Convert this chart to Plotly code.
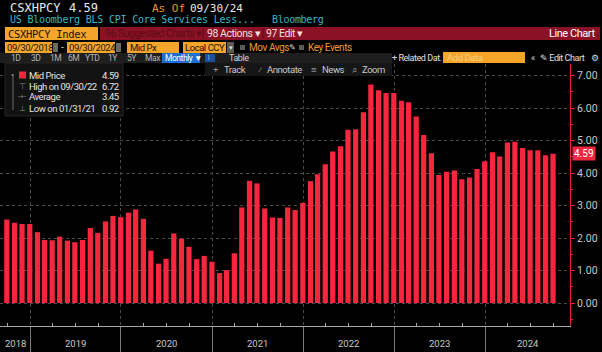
import pandas as pd
import plotly.graph_objects as go

# ---------------- data ----------------
ticker = "CSXHPCY"
title_text = "US Bloomberg BLS CPI Core Services Less..."
dates = pd.date_range("2018-09-30", periods=73, freq=pd.offsets.MonthEnd())
values = [2.57, 2.47, 2.43, 2.43, 2.18, 1.94, 1.93, 2.04, 1.92, 1.87,
          1.94, 2.31, 2.16, 2.51, 2.68, 2.64, 2.78, 2.88, 2.59, 1.61,
          1.21, 1.36, 2.14, 1.98, 1.73, 1.35, 1.45, 1.27, 0.92, 1.01,
          1.53, 2.94, 3.76, 3.68, 2.91, 2.63, 2.62, 2.94, 2.86, 3.08,
          3.75, 3.96, 4.27, 4.66, 4.82, 5.33, 5.35, 5.87, 6.72, 6.55,
          6.46, 6.46, 6.22, 6.18, 5.74, 5.17, 4.61, 3.94, 4.04, 4.08,
          3.81, 3.86, 4.12, 4.36, 4.64, 4.51, 4.94, 4.96, 4.77, 4.70,
          4.70, 4.55, 4.59]
year_labels = ["2018", "2019", "2020", "2021", "2022", "2023", "2024"]
y_ticks = [0, 1, 2, 3, 4, 5, 6, 7]

# ---------------- geometry / style ----------------
W, H = 602, 352
L, R, T, B = 0, 32, 64, 26
PW, PH = W - L - R, H - T - B

BAR = "#f7263f"
RED_AX = "#e8203a"
ORANGE = "#f4a52a"
ORANGE_TXT = "#ee9a2c"
DARKRED = "#8a1224"
GRID = "#4a4a4a"
TXT = "#c8c8c8"
MONO = "DejaVu Sans Mono, Liberation Mono, monospace"
UI = "Roboto, Liberation Sans, sans-serif"

# x calibration: 2019-01-01 at px 30, 2024-01-01 at px 485
j19, j24 = pd.Timestamp("2019-01-01"), pd.Timestamp("2024-01-01")
dpp = (j24 - j19) / (485 - 30)
X0 = j19 - dpp * 30
X1 = j24 + dpp * (PW - 485)

# y calibration: 0 at px 303, 32.5 px per unit
Y_BOT = -(T + PH - 303) / 32.5
Y_TOP = (303 - T) / 32.5


def px(x):
    return (x - L) / PW


def py(y):
    return 1 - (y - T) / PH


shapes = []
annots = []


def rect(x0, y0, x1, y1, fill, line=None, lw=0):
    shapes.append(dict(type="rect", xref="paper", yref="paper",
                       x0=px(x0), x1=px(x1), y0=py(y1), y1=py(y0),
                       fillcolor=fill, line=dict(width=lw, color=line or fill),
                       layer="above"))


def vline(x, y0, y1, color, w=1):
    shapes.append(dict(type="line", xref="paper", yref="paper",
                       x0=px(x), x1=px(x), y0=py(y1), y1=py(y0),
                       line=dict(width=w, color=color), layer="above"))


def text(x, y, s, color, size, family=UI, anchor="left", ls=None):
    if ls is None:
        ls = -0.45 if family == UI else 0
    if ls:
        s = f"<span style='letter-spacing:{ls}px'>{s}</span>"
    annots.append(dict(x=px(x), y=py(y), xref="paper", yref="paper",
                       text=s, showarrow=False, xanchor=anchor, yanchor="middle",
                       borderpad=0, font=dict(color=color, size=size, family=family)))


latest = values[-1]
imax = max(range(len(values)), key=lambda i: values[i])
imin = min(range(len(values)), key=lambda i: values[i])
avg = sum(values) / len(values)
end_date = dates[-1].strftime("%m/%d/%y")
start_date = dates[0].strftime("%m/%d/%Y")
end_date_long = dates[-1].strftime("%m/%d/%Y")

# ---- row 1 ----
text(9, 8, ticker, "#e8e8e8", 12, MONO)
text(68, 8, f"{latest:.2f}", "#e8e8e8", 12, MONO)
text(151, 8, "As Of", "#e8952a", 11, MONO)
text(189, 8, end_date, "#e8e8e8", 11, MONO)
# ---- row 2 ----
text(9, 20, title_text, "#3cb6c8", 10, MONO, ls=-0.2)
text(271, 20, "Bloomberg", "#3cb6c8", 10, MONO, ls=-0.3)
# ---- row 3 ----
rect(5, 27, 98, 40, ORANGE)
text(7, 33.5, f"{ticker} Index", "#1a1208", 10.5, MONO, ls=-0.3)
rect(100, 27, 600, 40, DARKRED)
text(104, 33.5, "96 Suggested Charts ▾", "#5e0c18", 10.5)
vline(203, 28, 39, "#5a0a16")
text(206, 33.5, "98 Actions ▾", "#f4dede", 10.5)
vline(263, 28, 39, "#5a0a16")
text(265, 33.5, "97 Edit ▾", "#f4dede", 10.5)
text(596, 33.5, "Line Chart", "#ffffff", 11, anchor="right")
# ---- row 4 ----
rect(5, 42, 52, 53, ORANGE)
text(6, 47.5, start_date, "#1a1208", 9.5)
rect(53, 43, 58, 52, "#6a6a6a")
text(60, 47.5, "-", "#d0d0d0", 10)
rect(67, 42, 115, 53, ORANGE)
text(68, 47.5, end_date_long, "#1a1208", 9.5)
rect(116, 43, 121, 52, "#6a6a6a")
rect(127, 42, 179, 53, ORANGE)
text(129, 47.5, "Mid Px", "#1a1208", 9.5)
rect(183, 42, 226, 53, ORANGE)
text(184, 47.5, "Local CCY", "#1a1208", 9.5)
rect(227, 42, 234, 53, "#5a5a5a")
text(228, 47.5, "▾", "#dddddd", 7)
rect(240, 45, 245, 50, "#5a5a5a")
text(248, 47.5, "Mov Avgs", ORANGE_TXT, 10)
text(288, 47.5, "✎", "#dddddd", 8, ls=0)
rect(299, 45, 304, 50, "#5a5a5a")
text(307, 47.5, "Key Events", ORANGE_TXT, 10)
# ---- row 5 ----
rect(0, 53, 392, 63, "#1e1e1e")
for lbl, xx in [("1D", 10), ("3D", 30), ("1M", 49), ("6M", 67), ("YTD", 84),
                ("1Y", 107), ("5Y", 126), ("Max", 144)]:
    text(xx, 58, lbl, "#b4b4b4", 8.5)
rect(162, 53, 200, 63, "#1f6ed4")
text(164, 58, "Monthly ▼", "#ffffff", 8.5)
rect(205, 54, 215, 62, "#1a4f9a")
text(206, 58, "⌇", "#9ec4ff", 7, ls=0)
text(228, 58, "Table", "#d0d0d0", 9)
text(391, 57.5, "+ Related Dat.", "#e0e0e0", 9)
rect(443, 52, 525, 63, ORANGE)
text(446, 57.5, "Add Data", "#f9cf7e", 9.5)
text(530, 57.5, "«", "#d8d8d8", 9, ls=0)
text(539, 57.5, "✎ Edit Chart", "#e0e0e0", 9)
text(590, 57.5, "⚙", "#d8d8d8", 9, ls=0)
# ---- row 6 (overlay toolbar) ----
rect(205, 63, 392, 76, "#161616")
for lbl, xx, col in [("+", 212, "#8a8a8a"), ("Track", 223, TXT), ("⁄", 257, "#8a8a8a"),
                     ("Annotate", 266, TXT), ("≡", 310, "#8a8a8a"), ("News", 321, TXT),
                     ("⌕", 351, "#8a8a8a"), ("Zoom", 361, TXT)]:
    text(xx, 69.5, lbl, col, 9.5)
# ---- legend box ----
rect(5, 63, 123, 116, "#121212", "#262626", 1)
vline(13, 74, 110, "#6a6a6a")
rect(19, 71.5, 26, 78.5, BAR)
text(10.5, 75, "•", "#8a8a8a", 9, ls=0)
text(18, 86, "⊤", "#8a8a8a", 8, ls=0)
text(17, 97, "-+-", "#8a8a8a", 7, ls=0)
text(18, 108, "⊥", "#8a8a8a", 8, ls=0)
rows = [("Mid Price", latest, 75),
        (f"High on {dates[imax].strftime('%m/%d/%y')}", values[imax], 86),
        ("Average", avg, 97),
        (f"Low on {dates[imin].strftime('%m/%d/%y')}", values[imin], 108)]
for lbl, v, yy in rows:
    text(28, yy, lbl, "#e4e4e4", 9.5)
    text(120, yy, f"{v:.2f}", "#e4e4e4", 9.5, anchor="right")

# ---- x axis year labels (centered in visible part of each year) ----
for lbl in year_labels:
    s = max(pd.Timestamp(f"{lbl}-01-01"), X0)
    e = min(pd.Timestamp(f"{int(lbl) + 1}-01-01"), X1)
    mid = s + (e - s) / 2
    annots.append(dict(x=mid, y=py(343), xref="x", yref="paper", text=lbl,
                       showarrow=False, xanchor="center", yanchor="middle",
                       font=dict(color=TXT, size=9.5, family=UI)))

# ---- last value tag ----
annots.append(dict(x=1, y=latest, xref="paper", yref="y", text=f"{latest:.2f}",
                   showarrow=False, xanchor="left", yanchor="middle", xshift=2,
                   bgcolor="#f0283f", borderpad=1,
                   font=dict(color="#ffffff", size=10, family=UI)))

year_bounds = [pd.Timestamp(f"{y}-01-01") for y in range(2019, 2025)]
quarters = [d for d in pd.date_range("2018-10-01", "2024-10-01", freq="QS")
            if d not in year_bounds]

fig = go.Figure(go.Bar(x=dates, y=values, marker=dict(color=BAR, line=dict(width=0)),
                       width=21 * 86400000))

fig.update_layout(
    width=W, height=H, margin=dict(l=L, r=R, t=T, b=B),
    paper_bgcolor="#000000", plot_bgcolor="#000000",
    showlegend=False, shapes=shapes, annotations=annots,
    xaxis=dict(type="date", range=[X0, X1], tickvals=year_bounds,
               ticktext=[""] * len(year_bounds), ticks="outside", ticklen=26,
               tickcolor="#7a7a7a", tickwidth=1,
               showgrid=True, gridcolor=GRID, griddash="dot", gridwidth=1,
               showline=True, linecolor="#a8a8a8", linewidth=1, zeroline=False,
               minor=dict(tickvals=quarters, ticks="inside", ticklen=3,
                          tickcolor="#a8a8a8", showgrid=False),
               fixedrange=True),
    yaxis=dict(side="right", range=[Y_BOT, Y_TOP], tickvals=y_ticks,
               tickformat=".2f", ticks="outside", ticklen=4, tickcolor=RED_AX,
               showline=True, linecolor=RED_AX, linewidth=1,
               showgrid=True, gridcolor=GRID, griddash="dot", gridwidth=1,
               zeroline=False, tickfont=dict(color=TXT, size=10.5, family=UI),
               minor=dict(dtick=0.5, tick0=0, ticks="outside", ticklen=2,
                          tickcolor=RED_AX, showgrid=False),
               fixedrange=True),
)

fig.write_html("out.html")
